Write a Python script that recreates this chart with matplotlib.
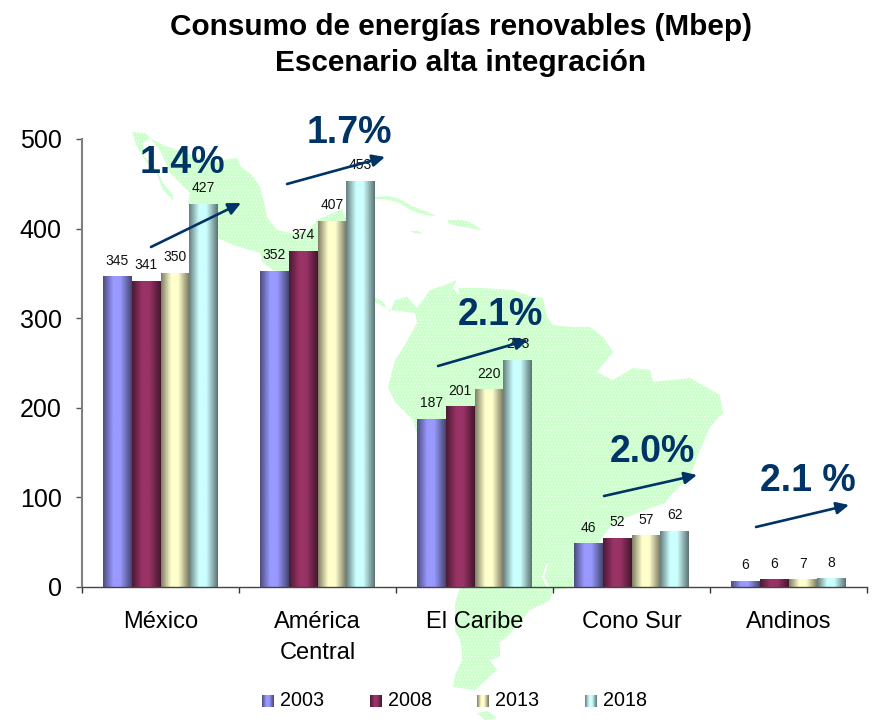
import numpy as np
import matplotlib
matplotlib.use("Agg")
import matplotlib.pyplot as plt
from matplotlib.colors import LinearSegmentedColormap, to_rgb
from matplotlib.patches import Polygon

plt.rcParams["font.family"] = ["Liberation Sans", "DejaVu Sans"]
plt.rcParams["hatch.linewidth"] = 0.3

# ── Data ─────────────────────────────────────────────────────────────────────
regions = ["México", "América\nCentral", "El Caribe", "Cono Sur", "Andinos"]
years = ["2003", "2008", "2013", "2018"]
# bar heights as drawn in the picture; the printed labels differ a little
by_year = {
    "2003": [346, 352, 187, 48, 6],
    "2008": [341, 375, 201, 54, 8],
    "2013": [350, 408, 220, 57, 8],
    "2018": [427, 453, 253, 62, 9],
}
labels_by_year = {
    "2003": [345, 352, 187, 46, 6],
    "2008": [341, 374, 201, 52, 6],
    "2013": [350, 407, 220, 57, 7],
    "2018": [427, 453, 253, 62, 8],
}
colors = ["#9999FF", "#993366", "#FFFFCC", "#CCFFFF"]
yticks = [0, 100, 200, 300, 400, 500]

# growth rates: text, text centre, arrow start, arrow tip (figure pixels)
rates = ["1.4%", "1.7%", "2.1%", "2.0%", "2.1 %"]
rate_pos = [(182, 163), (349, 133), (500, 315), (652, 452), (808, 481)]
arrow_from = [(151, 247), (287, 184), (438, 366), (604, 496), (756, 527)]
arrow_to = [(241, 203), (385, 157), (528, 340), (697, 475), (849, 505)]

# background map outlines (figure pixels)
mainland = [
    (132, 132), (145, 133), (153, 140), (163, 145), (177, 150), (197, 157), (217, 162),
    (227, 159), (237, 158), (241, 167), (252, 175), (260, 187), (265, 207), (267, 217),
    (277, 230), (290, 233), (307, 232), (317, 220), (333, 213), (342, 209), (347, 220),
    (352, 260), (375, 297), (383, 302), (387, 308), (390, 312), (395, 300), (407, 297),
    (413, 303), (417, 308), (430, 290), (445, 285), (457, 280), (452, 288), (460, 295),
    (458, 288), (482, 288), (513, 290), (530, 296), (543, 298), (547, 317), (553, 325),
    (573, 327), (590, 327), (603, 337), (613, 352), (597, 372), (613, 380), (633, 368),
    (650, 370), (653, 382), (690, 378), (720, 395), (723, 413), (710, 427), (697, 457),
    (690, 477), (673, 493), (665, 503), (640, 512), (625, 518), (612, 525), (600, 540),
    (590, 570), (575, 587), (553, 590), (550, 600), (545, 603), (530, 610), (507, 637),
    (500, 642), (500, 657), (490, 660), (497, 670), (488, 678), (475, 690), (453, 687),
    (455, 675), (462, 660), (462, 650), (460, 640), (455, 630), (455, 603), (460, 588),
    (413, 420), (395, 402), (388, 387), (395, 360), (405, 345), (417, 323), (415, 313),
    (390, 310), (375, 302), (345, 300), (300, 290), (262, 262), (260, 253), (233, 245),
    (215, 237), (188, 204), (190, 193), (170, 173), (160, 150), (150, 138), (143, 143),
    (143, 155), (157, 170), (163, 183), (173, 195), (173, 200), (163, 190), (157, 175),
    (147, 163), (137, 147),
]
islands = [
    [(375, 197), (388, 196), (400, 199), (412, 206), (425, 211), (437, 216), (425, 215),
     (410, 210), (400, 203), (385, 199), (375, 199)],
    [(447, 220), (460, 220), (470, 222), (482, 230), (470, 228), (458, 226), (450, 224)],
    [(410, 231), (418, 231), (423, 234), (414, 233)],
    [(477, 713), (488, 711), (497, 718), (485, 720)],
]
inlet = [(547, 565), (543, 577), (548, 587)]

# ── Figure and map ───────────────────────────────────────────────────────────
W, H = 874, 720
fig = plt.figure(figsize=(W / 100, H / 100), dpi=100, facecolor="white")

bg = fig.add_axes([0, 0, 1, 1], zorder=0)
bg.set_xlim(0, W)
bg.set_ylim(H, 0)
bg.axis("off")
for shape in [mainland] + islands:
    bg.add_patch(Polygon(shape, closed=True, fc="#CCFFCC", ec="white", lw=0, hatch="....."))
bg.plot(*zip(*inlet), color="white", lw=1.5)

# ── Bars ─────────────────────────────────────────────────────────────────────
ax = fig.add_axes([82 / W, 1 - 587 / H, 785 / W, 448 / H], zorder=1)
ax.patch.set_alpha(0)

stops = [0, 0.35, 0.6, 1]
shade = [0.5, 1, 1, 0.45]
ramp = np.linspace(0, 1, 64).reshape(1, -1)


def bar_cmap(color):
    rgb = np.array(to_rgb(color))
    return LinearSegmentedColormap.from_list(
        color, [(t, tuple(rgb * s)) for t, s in zip(stops, shade)]
    )


width = 0.183
x = np.arange(len(regions)) + 0.5
for i, year in enumerate(years):
    pos = x + (i - 1.5) * width
    bars = ax.bar(pos, by_year[year], width, color="none", zorder=2)
    for bar, lab in zip(bars, labels_by_year[year]):
        left, base = bar.get_x(), bar.get_y()
        ax.imshow(ramp, cmap=bar_cmap(colors[i]), aspect="auto", zorder=2,
                  extent=(left, left + bar.get_width(), base, base + bar.get_height()))
        ax.annotate(str(lab), (left + bar.get_width() / 2, bar.get_height()),
                    xytext=(0, 11.7), textcoords="offset points",
                    ha="center", va="center", fontsize=10, color="#111111", zorder=3)

ax.set_xlim(0, 5)
ax.set_ylim(0, 500)
ax.set_yticks(yticks)
ax.set_xticks(range(6))
ax.set_xticklabels([])
ax.set_xticks(x, minor=True)
ax.set_xticklabels(regions, minor=True, fontsize=17, linespacing=1.5, va="top")
ax.tick_params(axis="x", which="major", length=4.5, width=1, color="#333333")
ax.tick_params(axis="x", which="minor", length=0, pad=17.5)
ax.tick_params(axis="y", length=4.5, width=1, color="#555555", labelsize=18, pad=10)
ax.spines["top"].set_visible(False)
ax.spines["right"].set_visible(False)
ax.spines["left"].set_color("#808080")
ax.spines["left"].set_linewidth(1.5)
ax.spines["bottom"].set_color("#444444")
ax.spines["bottom"].set_linewidth(1)

# ── Overlay: title, rates, arrows, legend ────────────────────────────────────
top = fig.add_axes([0, 0, 1, 1], zorder=2)
top.patch.set_alpha(0)
top.axis("off")

top.text(461, 27, "Consumo de energías renovables (Mbep)", ha="center", va="center",
         fontsize=21.4, fontweight="bold", color="black")
top.text(461, 63, "Escenario alta integración", ha="center", va="center",
         fontsize=21.4, fontweight="bold", color="black")

for txt, pos, a, b in zip(rates, rate_pos, arrow_from, arrow_to):
    top.text(pos[0], pos[1], txt, ha="center", va="center", fontsize=27,
             fontweight="bold", color="#003366")
    top.annotate("", xy=b, xytext=a,
                 arrowprops=dict(arrowstyle="-|>,head_length=0.75,head_width=0.36",
                                 color="#003366", lw=1.9, shrinkA=0, shrinkB=0))

swatch_x = [262, 370, 477, 585]
for i, year in enumerate(years):
    sx = swatch_x[i]
    top.imshow(ramp, cmap=bar_cmap(colors[i]), aspect="auto",
               extent=(sx, sx + 12, 707, 695))
    top.text(sx + 18, 701, year, ha="left", va="center", fontsize=14.2, color="black")

top.set_xlim(0, W)
top.set_ylim(H, 0)

fig.savefig("out.png", dpi=100)
plt.close(fig)
